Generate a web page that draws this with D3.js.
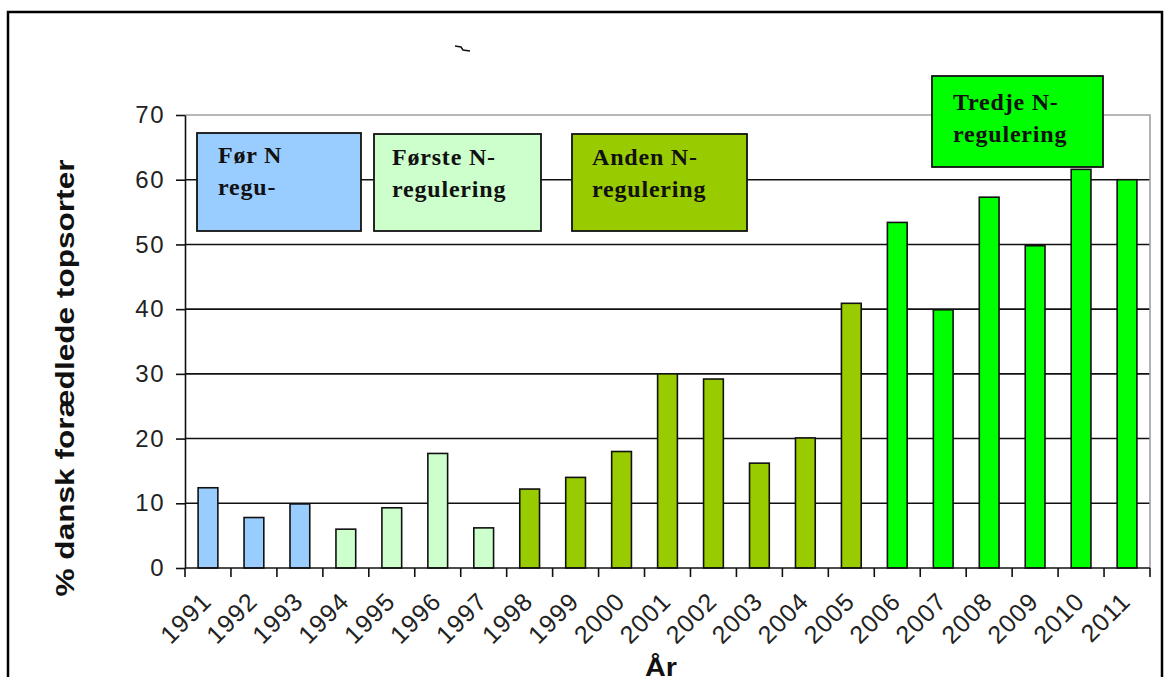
<!DOCTYPE html>
<html>
<head>
<meta charset="utf-8">
<script src="https://cdn.jsdelivr.net/npm/d3@7"></script>
<style>
  body { margin: 0; background: #fff; }
  svg { display: block; }
  .tick-label { font-family: "Liberation Sans", Arial, sans-serif; fill: #222; }
  .axis-title { font-family: "Liberation Sans", Arial, sans-serif; font-weight: bold; fill: #111; }
  .phase-text { font-family: "Liberation Serif", "Times New Roman", serif; font-weight: bold; fill: #111; }
</style>
</head>
<body>
<svg id="chart" width="1168" height="677"></svg>
<script>
const WIDTH = 1168;
const HEIGHT = 677;

// aar og andel dansk foraedlede topsorter (%)
const YEARS = ["1991", "1992", "1993", "1994", "1995", "1996", "1997", "1998", "1999", "2000",
  "2001", "2002", "2003", "2004", "2005", "2006", "2007", "2008", "2009", "2010", "2011"];
const VALUES = [12.4, 7.8, 9.9, 6.0, 9.3, 17.7, 6.2, 12.2, 14.0, 18.0,
  30.0, 29.2, 16.2, 20.1, 40.9, 53.4, 39.9, 57.3, 49.8, 61.6, 60.0];
const PHASE_OF_YEAR = [0, 0, 0, 1, 1, 1, 1, 2, 2, 2, 2, 2, 2, 2, 2, 3, 3, 3, 3, 3, 3];

const PHASE_COLORS = ["#99ccff", "#ccffcc", "#99cc00", "#00ff00"];
const PHASE_LABELS = [
  ["Før N", "regu-"],
  ["Første N-", "regulering"],
  ["Anden N-", "regulering"],
  ["Tredje N-", "regulering"]
];
const Y_TICKS = [0, 10, 20, 30, 40, 50, 60, 70];

const plot = { left: 185, right: 1150, top: 115, bottom: 568 };

const svg = d3.select("#chart");

// ydre ramme
svg.append("rect")
  .attr("x", 8).attr("y", 12)
  .attr("width", 1154).attr("height", 700)
  .attr("fill", "#fff")
  .attr("stroke", "#000")
  .attr("stroke-width", 2.5);

// lille streg oeverst
svg.append("path")
  .attr("d", "M455,46 L461,47 L463,50 L470,51")
  .attr("fill", "none")
  .attr("stroke", "#111")
  .attr("stroke-width", 1.5);

const x = d3.scaleBand()
  .domain(YEARS)
  .range([plot.left, plot.right])
  .paddingInner(0.57)
  .paddingOuter(0.285);

const xEdge = d3.scaleLinear()
  .domain([0, YEARS.length])
  .range([plot.left, plot.right]);

const y = d3.scaleLinear()
  .domain([0, 70])
  .range([plot.bottom, plot.top]);

// gitterlinjer
svg.append("g")
  .selectAll("line")
  .data(Y_TICKS.filter((d) => d > 0 && d < 70))
  .join("line")
  .attr("x1", plot.left).attr("x2", plot.right)
  .attr("y1", (d) => y(d)).attr("y2", (d) => y(d))
  .attr("stroke", "#111")
  .attr("stroke-width", 1.6);

// plotomraadets graa kant (top og hoejre)
svg.append("path")
  .attr("d", `M${plot.left},${y(70)} H${plot.right} V${plot.bottom}`)
  .attr("fill", "none")
  .attr("stroke", "#a0a0a0")
  .attr("stroke-width", 1.6);

// soejler
svg.append("g")
  .selectAll("rect")
  .data(YEARS)
  .join("rect")
  .attr("x", (d) => x(d))
  .attr("y", (d, i) => y(VALUES[i]))
  .attr("width", x.bandwidth())
  .attr("height", (d, i) => y(0) - y(VALUES[i]))
  .attr("fill", (d, i) => PHASE_COLORS[PHASE_OF_YEAR[i]])
  .attr("stroke", "#111")
  .attr("stroke-width", 1.6);

// y-akse
const yAxis = svg.append("g")
  .attr("transform", `translate(${plot.left},0)`)
  .call(d3.axisLeft(y).tickValues(Y_TICKS).tickSize(9).tickPadding(11).tickSizeOuter(0));
yAxis.select(".domain").attr("stroke", "#111").attr("stroke-width", 1.6);
yAxis.selectAll(".tick line").attr("stroke", "#111").attr("stroke-width", 1.6);
yAxis.selectAll(".tick text")
  .attr("class", "tick-label")
  .attr("font-size", 24)
  .attr("letter-spacing", 1.5);

// x-akse
svg.append("line")
  .attr("x1", plot.left).attr("x2", plot.right)
  .attr("y1", plot.bottom).attr("y2", plot.bottom)
  .attr("stroke", "#111")
  .attr("stroke-width", 1.6);

svg.append("g")
  .selectAll("line")
  .data(d3.range(YEARS.length + 1))
  .join("line")
  .attr("x1", (d) => xEdge(d)).attr("x2", (d) => xEdge(d))
  .attr("y1", plot.bottom).attr("y2", plot.bottom + 9)
  .attr("stroke", "#111")
  .attr("stroke-width", 1.6);

svg.append("g")
  .selectAll("text")
  .data(YEARS)
  .join("text")
  .attr("class", "tick-label")
  .attr("font-size", 25)
  .attr("letter-spacing", 1)
  .attr("text-anchor", "end")
  .attr("transform", (d) => `translate(${x(d) + x.bandwidth() / 2 + 5},${plot.bottom + 35}) rotate(-45)`)
  .text((d) => d);

// aksetitler
svg.append("text")
  .attr("class", "axis-title")
  .attr("font-size", 25)
  .attr("text-anchor", "middle")
  .attr("transform", "translate(74,378) rotate(-90)")
  .attr("textLength", 437)
  .attr("lengthAdjust", "spacingAndGlyphs")
  .text("% dansk forædlede topsorter");

svg.append("text")
  .attr("class", "axis-title")
  .attr("font-size", 25)
  .attr("x", 645)
  .attr("y", 676)
  .attr("textLength", 32)
  .attr("lengthAdjust", "spacingAndGlyphs")
  .text("År");

// faseboekse
const phaseBoxes = [
  { x: 197, y: 133, w: 164, h: 98, dx: 21, dy: 30 },
  { x: 374, y: 134, w: 167, h: 97, dx: 18, dy: 31 },
  { x: 572, y: 134, w: 175, h: 97, dx: 20, dy: 31 },
  { x: 932, y: 76, w: 171, h: 91, dx: 21, dy: 34 }
];

const boxes = svg.append("g")
  .selectAll("g")
  .data(PHASE_LABELS)
  .join("g")
  .attr("transform", (d, i) => `translate(${phaseBoxes[i].x},${phaseBoxes[i].y})`);

boxes.append("rect")
  .attr("width", (d, i) => phaseBoxes[i].w)
  .attr("height", (d, i) => phaseBoxes[i].h)
  .attr("fill", (d, i) => PHASE_COLORS[i])
  .attr("stroke", "#111")
  .attr("stroke-width", 1.8);

boxes.each(function (lines, i) {
  const t = d3.select(this).append("text")
    .attr("class", "phase-text")
    .attr("font-size", 24)
    .attr("letter-spacing", 0.8);
  lines.forEach((line, k) => {
    t.append("tspan")
      .attr("x", phaseBoxes[i].dx)
      .attr("y", phaseBoxes[i].dy + k * 32)
      .text(line);
  });
});
</script>
</body>
</html>
